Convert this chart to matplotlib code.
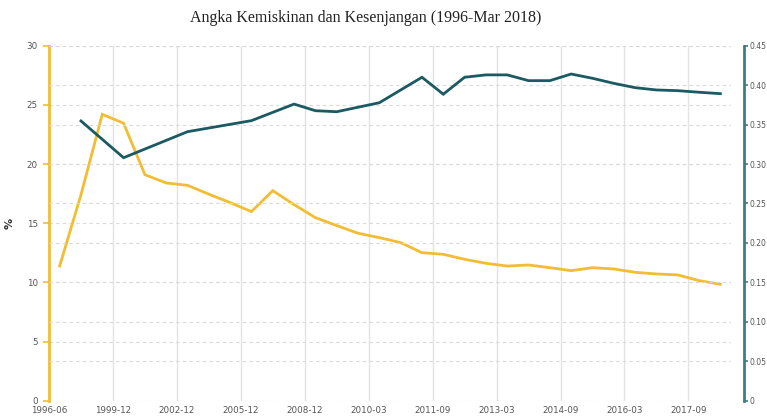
import numpy as np
import matplotlib
matplotlib.use("Agg")
import matplotlib.pyplot as plt

categories = ['1996-06', '1998-06', '1999-02', '1999-12', '2000-12', '2001-12', '2002-12',
              '2003-12', '2004-12', '2005-12', '2006-12', '2007-12', '2008-12', '2009-03',
              '2009-09', '2010-03', '2010-09', '2011-03', '2011-09', '2012-03', '2012-09',
              '2013-03', '2013-09', '2014-03', '2014-09', '2015-03', '2015-09', '2016-03',
              '2016-09', '2017-03', '2017-09', '2018-03']

poverty = [11.38, 17.4, 24.2, 23.45, 19.1, 18.4, 18.2, 17.45, 16.74, 15.98, 17.75, 16.57,
           15.47, 14.8, 14.15, 13.78, 13.36, 12.51, 12.37, 11.95, 11.61, 11.38, 11.47,
           11.24, 10.99, 11.24, 11.13, 10.85, 10.71, 10.63, 10.15, 9.84]

gini = [None, 0.3546, None, 0.308, None, None, 0.341, None, None, 0.355, None, 0.376,
        0.3676, 0.3663, 0.372, 0.3777, None, 0.41, 0.3885, 0.41, 0.413, 0.413, 0.4057,
        0.4057, 0.4141, 0.4087, 0.4023, 0.3968, 0.3939, 0.393, 0.391, 0.3892]

tick_labels = ['1996-06', '1999-12', '2002-12', '2005-12', '2008-12', '2010-03',
               '2011-09', '2013-03', '2014-09', '2016-03', '2017-09']

title = 'Angka Kemiskinan dan Kesenjangan (1996-Mar 2018)'

YELLOW = '#F2BD33'
TEAL = '#1B5A62'
TEAL_AX = '#3E7C86'
GRID = '#d9d9d9'
LABEL = '#555555'

fig = plt.figure(figsize=(7.67, 4.16), dpi=100)
ax = fig.add_axes([49/767, 1-400.7/416, (731-49)/767, (400.7-45.7)/416])
ax2 = ax.twinx()

x = np.arange(len(categories))
ax.set_xlim(-0.5, len(categories) - 0.5)
ax.set_ylim(0, 30)
ax2.set_ylim(0, 0.45)

# grids
tick_pos = [categories.index(t) - 0.5 for t in tick_labels]
for tp in tick_pos[1:]:
    ax.axvline(tp, color='#e3e3e3', lw=1.0, zorder=0)
for yv in np.arange(0, 31, 5):
    ax.axhline(yv, color=GRID, lw=0.8, ls=(0, (3, 3)), zorder=0)
for yv in np.arange(0.05, 0.46, 0.05):
    ax2.axhline(yv, color=GRID, lw=0.8, ls=(0, (3, 3)), zorder=0)

ax.plot(x, poverty, color=YELLOW, lw=2.0, zorder=3, solid_joinstyle='miter')
gx = [i for i, v in enumerate(gini) if v is not None]
gy = [v for v in gini if v is not None]
ax2.plot(gx, gy, color=TEAL, lw=2.0, zorder=3, solid_joinstyle='miter')

ax.set_xticks(tick_pos)
ax.set_xticklabels(tick_labels)
ax.tick_params(axis='x', length=0, pad=4, labelsize=6.3, labelcolor=LABEL)

ax.set_yticks(np.arange(0, 31, 5))
ax.tick_params(axis='y', length=4, width=1.2, color=YELLOW, labelsize=6.3,
               labelcolor=LABEL, pad=4)
ax2.set_yticks(np.arange(0, 0.46, 0.05))
ax2.set_yticklabels(['0'] + ['%.2f' % v for v in np.arange(0.05, 0.46, 0.05)])
ax2.tick_params(axis='y', length=3, width=1.2, color=TEAL_AX, labelsize=5.5,
                labelcolor=LABEL, pad=1.5)

for a in (ax, ax2):
    a.spines['top'].set_visible(False)
    a.spines['bottom'].set_visible(False)
ax.spines['right'].set_visible(False)
ax2.spines['left'].set_visible(False)
ax.spines['left'].set_color(YELLOW)
ax.spines['left'].set_linewidth(2.0)
ax2.spines['right'].set_color(TEAL_AX)
ax2.spines['right'].set_linewidth(2.0)
ax2.spines['right'].set_position(('outward', 9))

ax.set_ylabel('%', fontsize=8, color='#333333', fontweight='bold')
ax.yaxis.set_label_coords(-34/682, 0.5)

fig.text(366/767, 1-18/416, title, ha='center', va='center',
         fontfamily='Liberation Serif', fontsize=11.5, color='#222222')

fig.savefig('out.png', dpi=100)
